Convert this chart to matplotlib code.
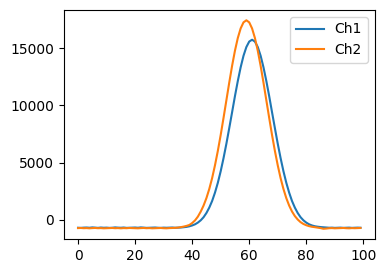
import matplotlib
matplotlib.use("Agg")
import matplotlib.pyplot as plt

# values, one per sample index 0..99
ch1 = [-690, -700, -680, -670, -690, -660, -680, -700, -670, -690,
       -680, -700, -690, -660, -680, -690, -670, -700, -690, -680,
       -670, -690, -660, -680, -700, -690, -680, -670, -690, -700,
       -680, -690, -680, -670, -690, -680, -670,
       -645, -615, -565, -490, -390, -240, -40, 230, 600, 1070,
       1650, 2380, 3240, 4250, 5400, 6660, 8020, 9410, 10820, 12140,
       13340, 14350, 15110, 15590, 15750, 15590, 15110, 14350, 13340, 12140,
       10820, 9410, 8020, 6660, 5400, 4250, 3240, 2380, 1650, 1070,
       600, 230, -40, -240, -390, -490, -560, -600, -630, -650,
       -670, -690, -680, -700, -690, -680, -700, -690, -680, -700,
       -690, -680, -690]

ch2 = [-720, -710, -730, -720, -740, -720, -710, -730, -720, -740,
       -730, -720, -710, -730, -720, -740, -720, -730, -710, -720,
       -730, -740, -720, -710, -730, -720, -740, -730, -720, -710,
       -730, -740, -720, -710,
       -700, -680, -640, -590, -530, -450, -280, -50, 280, 720,
       1250, 1900, 2700, 3650, 4770, 6030, 7420, 8920, 10460, 12000,
       13470, 14790, 15900, 16740, 17270, 17450, 17270, 16740, 15900, 14790,
       13470, 12000, 10460, 8920, 7420, 6030, 4770, 3650, 2700, 1900,
       1250, 730, 330, 30, -200, -360, -470, -550, -605, -640,
       -680, -720, -780, -760,
       -730, -720, -740, -730, -720, -710, -730, -740, -720, -730,
       -720, -710]

x = list(range(len(ch1)))

fig = plt.figure(figsize=(3.85, 2.74), dpi=100)
ax = fig.add_subplot(111)
fig.subplots_adjust(left=0.166, right=0.973, top=0.964, bottom=0.127)
ax.plot(x, ch1, label='Ch1')
ax.plot(x, ch2, label='Ch2')
ax.legend(loc='upper right')
fig.savefig('out.png', dpi=100)
